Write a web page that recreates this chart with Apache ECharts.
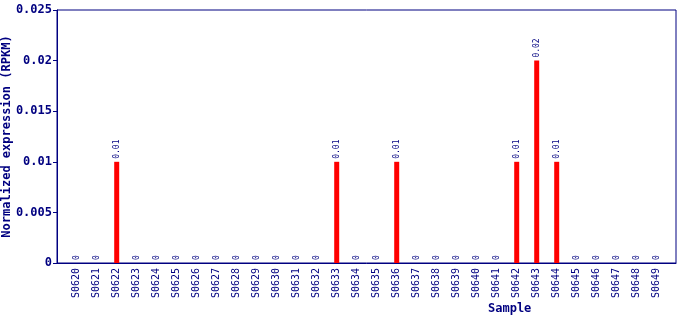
<!DOCTYPE html>
<html><head><meta charset="utf-8">
<script src="https://cdn.jsdelivr.net/npm/echarts@6/dist/echarts.min.js"></script>
<style>html,body{margin:0;padding:0;background:#fff}#c{width:690px;height:320px}</style>
</head><body><div id="c"></div>
<script>
const categories = ['S0620','S0621','S0622','S0623','S0624','S0625','S0626','S0627','S0628','S0629','S0630','S0631','S0632','S0633','S0634','S0635','S0636','S0637','S0638','S0639','S0640','S0641','S0642','S0643','S0644','S0645','S0646','S0647','S0648','S0649'];
const values = [0,0,0.01,0,0,0,0,0,0,0,0,0,0,0.01,0,0,0.01,0,0,0,0,0,0.01,0.02,0.01,0,0,0,0,0];
const yTicks = ['0','0.005','0.01','0.015','0.02','0.025'];
const navy = '#000080';
const mono = '"DejaVu Sans Mono", monospace';
const chart = echarts.init(document.getElementById('c'));
chart.setOption({
  animation: false,
  grid: [
    {left: 57, right: 14, top: 10, bottom: 57, show: true, borderColor: navy, borderWidth: 1, backgroundColor: 'transparent', containLabel: false, outerBoundsMode: 'none'},
    {left: 66.7, right: 23.3, top: 10, bottom: 57, containLabel: false, outerBoundsMode: 'none'}
  ],
  xAxis: [
    {gridIndex: 0, type: 'category', data: categories, axisLine: {lineStyle: {color: navy}}, axisTick: {show: false}, axisLabel: {show: false}},
    {gridIndex: 1, type: 'category', data: categories,
      axisLine: {show: false}, axisTick: {show: false},
      axisLabel: {rotate: 90, color: navy, fontFamily: mono, fontSize: 10, margin: 5, interval: 0}}
  ],
  yAxis: [
    {gridIndex: 0, type: 'value', min: 0, max: 0.025, interval: 0.005,
      name: 'Normalized expression (RPKM)', nameLocation: 'middle', nameGap: 44, nameMoveOverlap: false,
      nameTextStyle: {color: navy, fontFamily: mono, fontSize: 12, fontWeight: 'bold'},
      axisLine: {show: true, lineStyle: {color: navy}},
      axisTick: {show: true, length: 4, lineStyle: {color: navy}},
      splitLine: {show: false},
      axisLabel: {color: navy, fontFamily: mono, fontSize: 12, fontWeight: 'bold', margin: 5,
        formatter: v => yTicks[Math.round(v / 0.005)]}},
    {gridIndex: 1, type: 'value', min: 0, max: 0.025, interval: 0.005, show: false}
  ],
  series: [{
    type: 'bar', xAxisIndex: 1, yAxisIndex: 1, data: values, barWidth: 5,
    itemStyle: {color: '#ff0000'},
    label: {show: true, position: 'top', rotate: 90, align: 'left', verticalAlign: 'middle', distance: 3,
      color: navy, fontFamily: mono, fontSize: 8,
      formatter: p => p.value === 0 ? '0' : String(p.value)}
  }],
  graphic: [{type: 'text', left: 488, top: 303, style: {text: 'Sample', fill: navy, font: 'bold 12px "DejaVu Sans Mono", monospace'}}]
});
</script></body></html>
